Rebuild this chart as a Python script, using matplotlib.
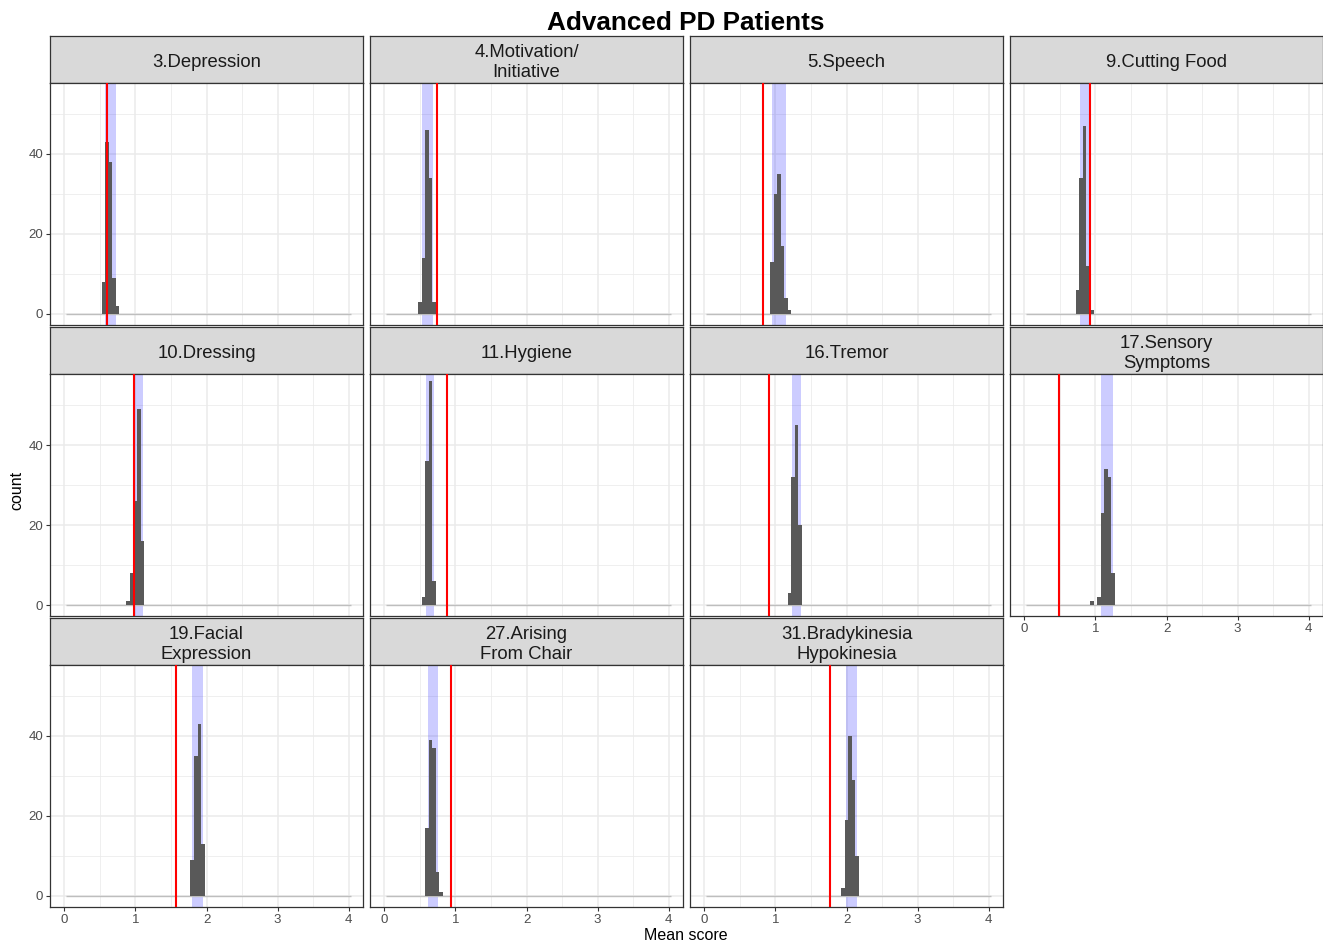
import numpy as np
import matplotlib
matplotlib.use("Agg")
import matplotlib.pyplot as plt

plt.rcParams["font.family"] = ["Liberation Sans", "DejaVu Sans"]

# facet labels, in plotting order
items = [
    "3.Depression", "4.Motivation/\nInitiative", "5.Speech", "9.Cutting Food",
    "10.Dressing", "11.Hygiene", "16.Tremor", "17.Sensory\nSymptoms",
    "19.Facial\nExpression", "27.Arising\nFrom Chair", "31.Bradykinesia\nHypokinesia",
]

# left edge of the first non-empty bin and the bootstrap counts from there on
bin_start = [0.525, 0.475, 0.925, 0.725, 0.875, 0.525, 1.175, 0.925, 1.775, 0.575, 1.925]
bin_counts = [
    [8, 43, 38, 9, 2],
    [3, 14, 46, 34, 3],
    [13, 30, 35, 17, 4, 1],
    [6, 34, 47, 12, 1],
    [1, 8, 26, 49, 16],
    [2, 36, 56, 6],
    [3, 32, 45, 20],
    [1, 0, 2, 23, 34, 32, 8],
    [9, 35, 43, 13],
    [17, 39, 37, 6, 1],
    [2, 19, 40, 29, 10],
]

# observed mean score (red line) and bootstrap interval (blue band)
observed = [0.606, 0.746, 0.831, 0.92, 0.986, 0.887, 0.915, 0.49, 1.577, 0.944, 1.775]
ci_low = [0.568, 0.53, 0.958, 0.778, 0.962, 0.59, 1.239, 1.08, 1.803, 0.61, 1.99]
ci_high = [0.728, 0.68, 1.146, 0.906, 1.103, 0.70, 1.357, 1.25, 1.953, 0.76, 2.146]

binwidth = 0.05
edges = np.arange(0.025, 4.0, binwidth)

W, H = 1323, 944
fig = plt.figure(figsize=(W / 100, H / 100), dpi=100)

col_left = [50, 370, 690, 1010]
panel_w = 313
row_strip_top = [36, 327, 618]
strip_h = 47
panel_h = 242

grey_text = "#4D4D4D"
border = "#333333"


def fig_rect(x, y, w, h):
    return [x / W, 1 - (y + h) / H, w / W, h / H]


for i, name in enumerate(items):
    r, c = divmod(i, 4)
    x0 = col_left[c]
    y_strip = row_strip_top[r]

    # strip header
    sax = fig.add_axes(fig_rect(x0, y_strip, panel_w, strip_h))
    sax.set_facecolor("#D9D9D9")
    sax.set_xticks([])
    sax.set_yticks([])
    for s in sax.spines.values():
        s.set_color(border)
        s.set_linewidth(0.9)
    sax.text(0.5, 0.44, name, ha="center", va="center", fontsize=13.3,
             color="#1A1A1A", linespacing=1.22, transform=sax.transAxes)

    ax = fig.add_axes(fig_rect(x0, y_strip + strip_h, panel_w, panel_h))
    ax.set_xlim(-0.2, 4.2)
    ax.set_ylim(-2.75, 57.75)

    ax.set_xticks([0, 1, 2, 3, 4])
    ax.set_xticks([0.5, 1.5, 2.5, 3.5], minor=True)
    ax.set_yticks([0, 20, 40])
    ax.set_yticks([10, 30, 50], minor=True)
    ax.grid(which="major", color="#EBEBEB", linewidth=1.1, zorder=0)
    ax.grid(which="minor", color="#EBEBEB", linewidth=0.55, zorder=0)
    ax.set_axisbelow(True)

    counts = np.zeros(len(edges))
    k = int(round((bin_start[i] - edges[0]) / binwidth))
    counts[k:k + len(bin_counts[i])] = bin_counts[i]

    ax.axvspan(ci_low[i], ci_high[i], color="blue", alpha=0.2, lw=0, zorder=1)
    ax.hlines(0, edges[0], edges[-1] + binwidth, color="#BEBEBE", lw=1.0, zorder=2)
    ax.bar(edges, counts, width=binwidth, align="edge", color="#595959", lw=0, zorder=3)
    ax.axvline(observed[i], color="red", lw=1.5, zorder=4)

    for s in ax.spines.values():
        s.set_color(border)
        s.set_linewidth(0.9)

    show_y = c == 0
    show_x = r == 2 or (r == 1 and c == 3)
    ax.tick_params(axis="y", which="major", length=3 if show_y else 0, color=border,
                   labelsize=9.5, labelcolor=grey_text, pad=2, labelleft=show_y)
    ax.tick_params(axis="x", which="major", length=3 if show_x else 0, color=border,
                   labelsize=9.5, labelcolor=grey_text, pad=2, labelbottom=show_x)
    ax.tick_params(which="minor", length=0)

fig.text(686 / W, 1 - 23 / H, "Advanced PD Patients", ha="center", va="center",
         fontsize=18.8, fontweight="bold")
fig.text(686 / W, 1 - 936 / H, "Mean score", ha="center", va="center", fontsize=11.5)
fig.text(17 / W, 1 - 490 / H, "count", ha="center", va="center", rotation=90, fontsize=11.5)

fig.savefig("out.png", dpi=100)
